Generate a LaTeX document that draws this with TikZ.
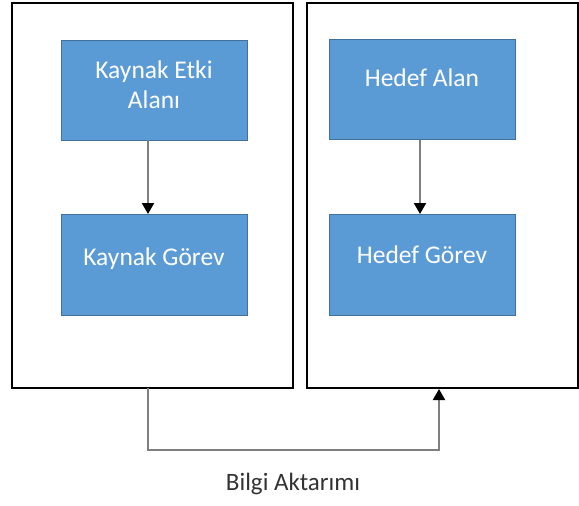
\documentclass[tikz,border=0pt]{standalone}
\usepackage{fontspec}
\setmainfont{Carlito}
\usetikzlibrary{arrows.meta}
\definecolor{boxfill}{HTML}{5B9BD5}
\definecolor{boxline}{HTML}{41719C}
\definecolor{linkgray}{HTML}{7F7F7F}
\begin{document}
\begin{tikzpicture}[x=1pt,y=-1pt,
  frame/.style={draw=black,line width=2pt},
  task/.style={draw=boxline,fill=boxfill,line width=1pt},
  boxtext/.style={text=white,font=\fontsize{25.5}{30}\selectfont,align=center,anchor=north},
  link/.style={draw=linkgray,line width=2pt,-{Triangle[length=11pt,width=12pt,color=black,fill=black]}}]
\useasboundingbox (0,0) rectangle (579,506);
% two frames
\draw[frame] (12,3) rectangle (293,388);
\draw[frame] (307,3) rectangle (578,388);
% source side
\path[task] (61,40) rectangle (247,140);
\node[boxtext] (srctxt) at (154,57) {Kaynak Etki\\Alanı};
\path[task] (61,214) rectangle (247,315);
\node[boxtext] (srctask) at (154,244) {Kaynak Görev};
\coordinate (s1) at (148,140);
\coordinate (s2) at (148,214);
\draw[link] (s1) -- (s2);
% target side
\path[task] (329,39) rectangle (515,139);
\node[boxtext] (tgt) at (422,65) {Hedef Alan};
\path[task] (329,214) rectangle (515,315);
\node[boxtext] (tgttask) at (422,242) {Hedef Görev};
\coordinate (t1) at (420,140);
\coordinate (t2) at (420,214);
\draw[link] (t1) -- (t2);
% transfer between frames
\coordinate (a) at (148,388);
\coordinate (b) at (439,389);
\draw[link] (a) -- (148,450) -- (439,450) -- (b);
\node (lbl) [text=black!80,font=\fontsize{25}{28}\selectfont] at (293,484) {Bilgi Aktarımı};
\end{tikzpicture}
\end{document}
